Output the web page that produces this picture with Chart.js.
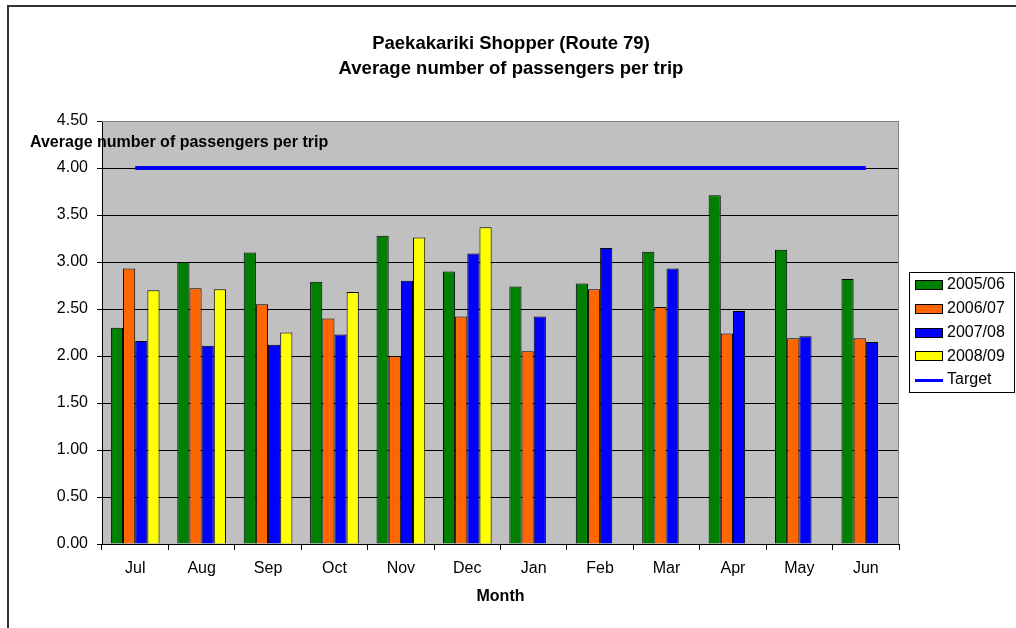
<!DOCTYPE html>
<html>
<head>
<meta charset="utf-8">
<script src="https://cdn.jsdelivr.net/npm/chart.js@4.4.1/dist/chart.umd.min.js"></script>
<style>
  html, body { margin: 0; padding: 0; background: #fff; }
  canvas { display: block; }
</style>
</head>
<body>
<canvas id="c" width="1016" height="628"></canvas>
<script>
const months = ['Jul','Aug','Sep','Oct','Nov','Dec','Jan','Feb','Mar','Apr','May','Jun'];
const y2005_06 = [2.30, 3.00, 3.10, 2.79, 3.28, 2.90, 2.74, 2.77, 3.11, 3.71, 3.13, 2.82];
const y2006_07 = [2.93, 2.72, 2.55, 2.40, 2.00, 2.42, 2.05, 2.71, 2.52, 2.24, 2.19, 2.19];
const y2007_08 = [2.16, 2.11, 2.12, 2.23, 2.80, 3.09, 2.42, 3.15, 2.93, 2.48, 2.21, 2.15];
const y2008_09 = [2.70, 2.71, 2.25, 2.68, 3.26, 3.37, null, null, null, null, null, null];
const target   = [4.00, 4.00, 4.00, 4.00, 4.00, 4.00, 4.00, 4.00, 4.00, 4.00, 4.00, 4.00];
const seriesNames = ['2005/06', '2006/07', '2007/08', '2008/09', 'Target'];
const titleLines = ['Paekakariki Shopper (Route 79)', 'Average number of passengers per trip'];
const yTitle = 'Average number of passengers per trip';
const xTitle = 'Month';

const FONT = "'Liberation Sans', Arial, sans-serif";

const decor = {
  id: 'decor',
  beforeDraw(chart) {
    const ctx = chart.ctx, a = chart.chartArea;
    ctx.save();
    ctx.fillStyle = '#C0C0C0';
    ctx.fillRect(a.left, a.top, a.right - a.left, a.bottom - a.top);
    ctx.restore();
  },
  afterDraw(chart) {
    const ctx = chart.ctx, a = chart.chartArea;
    ctx.save();
    // plot border top/right in grey
    ctx.strokeStyle = '#808080';
    ctx.lineWidth = 1;
    ctx.beginPath();
    ctx.moveTo(a.left, a.top + 0.5);
    ctx.lineTo(a.right - 0.5, a.top + 0.5);
    ctx.lineTo(a.right - 0.5, a.bottom);
    ctx.stroke();
    // outer frame
    ctx.fillStyle = '#333';
    ctx.fillRect(7, 5, 2, 640);
    ctx.fillRect(7, 5, 1016, 2);
    // titles
    ctx.fillStyle = '#000';
    ctx.textAlign = 'center';
    ctx.textBaseline = 'middle';
    ctx.font = 'bold 18.5px ' + FONT;
    ctx.fillText(titleLines[0], 511, 43.5);
    ctx.fillText(titleLines[1], 511, 68.5);
    ctx.font = 'bold 16px ' + FONT;
    ctx.fillText(xTitle, (a.left + a.right) / 2, 597);
    ctx.textAlign = 'left';
    ctx.fillText(yTitle, 30, 143);
    // legend
    const lx = 909, ly = 272, lw = 105, lh = 120;
    ctx.fillStyle = '#fff';
    ctx.fillRect(lx, ly, lw, lh);
    ctx.strokeStyle = '#000';
    ctx.lineWidth = 1;
    ctx.strokeRect(lx + 0.5, ly + 0.5, lw, lh);
    ctx.font = '16px ' + FONT;
    ctx.textBaseline = 'middle';
    chart.data.datasets.forEach((ds, i) => {
      const cy = 285 + i * 23.75;
      if (ds.type === 'line') {
        ctx.fillStyle = ds.borderColor;
        ctx.fillRect(915, Math.round(cy) - 1, 28, 3);
      } else {
        ctx.fillStyle = ds.backgroundColor;
        ctx.fillRect(915, Math.round(cy) - 5, 28, 10);
        ctx.strokeStyle = '#000';
        ctx.strokeRect(915.5, Math.round(cy) - 4.5, 27, 9);
      }
      ctx.fillStyle = '#000';
      ctx.fillText(ds.label, 947, cy);
    });
    ctx.restore();
  }
};

const barCommon = { borderColor: '#000', borderWidth: 1, categoryPercentage: 0.733, barPercentage: 1.0 };

new Chart(document.getElementById('c'), {
  data: {
    labels: months,
    datasets: [
      Object.assign({ type: 'bar', label: seriesNames[0], data: y2005_06, backgroundColor: '#008000' }, barCommon),
      Object.assign({ type: 'bar', label: seriesNames[1], data: y2006_07, backgroundColor: '#FF6600' }, barCommon),
      Object.assign({ type: 'bar', label: seriesNames[2], data: y2007_08, backgroundColor: '#0000FF' }, barCommon),
      Object.assign({ type: 'bar', label: seriesNames[3], data: y2008_09, backgroundColor: '#FFFF00' }, barCommon),
      { type: 'line', label: seriesNames[4], data: target, borderColor: '#0000FF', borderWidth: 4, pointRadius: 0, fill: false, order: -1 }
    ]
  },
  options: {
    responsive: false,
    animation: false,
    devicePixelRatio: 1,
    layout: { padding: { left: 7, top: 121, right: 117, bottom: 44 } },
    plugins: { legend: { display: false }, title: { display: false }, tooltip: { enabled: false } },
    scales: {
      x: {
        afterFit(s) { s.height = 40; },
        grid: { offset: true, drawOnChartArea: false, drawTicks: true, tickLength: 6, color: '#000' },
        border: { color: '#000', width: 1 },
        ticks: { color: '#000', font: { family: FONT, size: 16 }, padding: 9, maxRotation: 0 }
      },
      y: {
        min: 0, max: 4.5,
        afterFit(s) { s.width = 95; },
        grid: { color: (c) => (c.tick && c.tick.value === 4.5) ? '#808080' : '#000', tickColor: '#000', tickLength: 5, lineWidth: 1 },
        border: { color: '#000', width: 1 },
        ticks: { stepSize: 0.5, color: '#000', font: { family: FONT, size: 16 }, padding: 9, callback: (v) => Number(v).toFixed(2) }
      }
    }
  },
  plugins: [decor]
});
</script>
</body>
</html>
